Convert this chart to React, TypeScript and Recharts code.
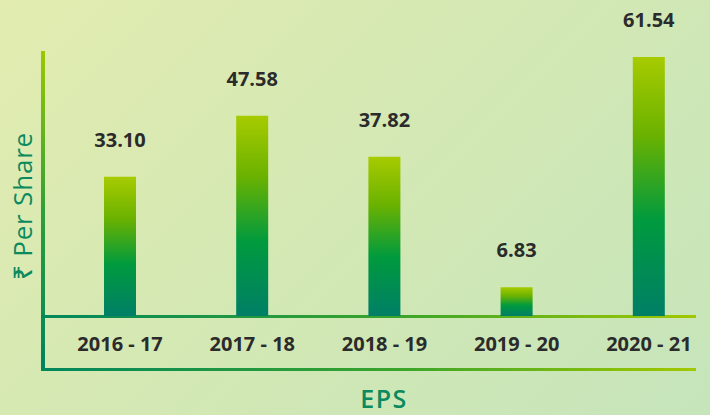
import { BarChart, Bar, XAxis, YAxis, LabelList } from 'recharts';

// EPS per year (₹ per share)
const years = ['2016 - 17', '2017 - 18', '2018 - 19', '2019 - 20', '2020 - 21'];
const eps = [33.1, 47.58, 37.82, 6.83, 61.54];
const epsLabels = ['33.10', '47.58', '37.82', '6.83', '61.54'];

const data = years.map((year, i) => ({ year, eps: eps[i], label: epsLabels[i] }));

const FONT = '"Open Sans", "Noto Sans", sans-serif';
const TEXT_DARK = '#2b2b2b';
const GREEN_TEXT = '#0b8a5f';

export default function App() {
  return (
    <div
      style={{
        position: 'absolute',
        left: 0,
        top: 0,
        width: 710,
        height: 415,
        background: 'linear-gradient(135deg, #e2ecb0 0%, #d3e8b4 50%, #c6e5bb 100%)',
        fontFamily: FONT,
      }}
    >
      {/* frame lines around the axis band */}
      <svg width={710} height={415} style={{ position: 'absolute', left: 0, top: 0 }}>
        <defs>
          <linearGradient id='vLine' x1='0' y1='0' x2='0' y2='1'>
            <stop offset='0%' stopColor='#9cc800' />
            <stop offset='50%' stopColor='#2f9f3a' />
            <stop offset='100%' stopColor='#00835e' />
          </linearGradient>
          <linearGradient id='hLine' x1='0' y1='0' x2='1' y2='0'>
            <stop offset='0%' stopColor='#00875c' />
            <stop offset='55%' stopColor='#3aa52a' />
            <stop offset='100%' stopColor='#a2c800' />
          </linearGradient>
        </defs>
        <rect x={41} y={51} width={4} height={320} fill='url(#vLine)' />
        <rect x={41} y={315} width={655} height={3} fill='url(#hLine)' />
        <rect x={41} y={368} width={655} height={3} fill='url(#hLine)' />
        <text
          x={0}
          y={0}
          transform='translate(32 206) rotate(-90)'
          textAnchor='middle'
          fontSize={26}
          fontWeight={500}
          letterSpacing={0.8}
          fill={GREEN_TEXT}
          fontFamily={FONT}
        >
          ₹ Per Share
        </text>
        <text
          x={384}
          y={408}
          textAnchor='middle'
          fontSize={25}
          fontWeight={600}
          letterSpacing={1.5}
          fill={GREEN_TEXT}
          fontFamily={FONT}
        >
          EPS
        </text>
      </svg>
      <div style={{ position: 'absolute', left: 0, top: 0 }}>
        <BarChart
          width={710}
          height={415}
          data={data}
          margin={{ top: 51, right: -5, left: 54, bottom: 69 }}
        >
          <defs>
            <linearGradient id='barFill' x1='0' y1='0' x2='0' y2='1'>
              <stop offset='0%' stopColor='#a7cb00' />
              <stop offset='30%' stopColor='#6bb200' />
              <stop offset='63%' stopColor='#009a3e' />
              <stop offset='100%' stopColor='#007f66' />
            </linearGradient>
          </defs>
          <XAxis
            dataKey='year'
            axisLine={false}
            tickLine={false}
            tickMargin={15}
            tick={{ fontSize: 20, fontWeight: 700, fill: TEXT_DARK, fontFamily: FONT }}
          />
          <YAxis hide domain={[0, 62.97]} />
          <Bar dataKey='eps' barSize={32} fill='url(#barFill)' isAnimationActive={false}>
            <LabelList
              dataKey='label'
              position='top'
              offset={30}
              fontSize={20}
              fontWeight={700}
              fill={TEXT_DARK}
              fontFamily={FONT}
            />
          </Bar>
        </BarChart>
      </div>
    </div>
  );
}
